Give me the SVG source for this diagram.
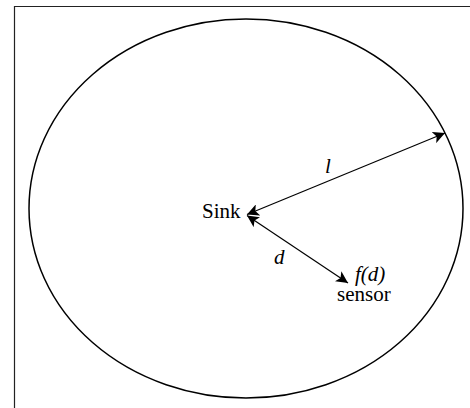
<svg xmlns="http://www.w3.org/2000/svg" width="470" height="408" viewBox="0 0 470 408">
<style>
.t{font-family:"Liberation Serif","Times New Roman",serif;font-size:21px;fill:#000}
.i{font-style:italic}
.ln{stroke:#000;stroke-width:1.2;fill:none}
</style>
<defs>
<marker id="ah" viewBox="0 0 10 10" refX="10" refY="5" markerWidth="12" markerHeight="12" markerUnits="userSpaceOnUse" orient="auto-start-reverse">
<path d="M0,0 L10,5 L0,10 L2.5,5 Z" fill="#000"/>
</marker>
</defs>
<rect x="0" y="0" width="470" height="408" fill="#fff"/>
<path d="M14.5,408 V6.5 H470" stroke="#222" stroke-width="1.2" fill="none"/>
<g id="region"><ellipse cx="246" cy="208.5" rx="217" ry="189.5" stroke="#000" stroke-width="1.5" fill="none"/></g>
<g id="connectors">
<line class="ln" x1="247" y1="214.5" x2="445" y2="133" marker-start="url(#ah)" marker-end="url(#ah)"/>
<line class="ln" x1="247" y1="215.5" x2="348" y2="283" marker-start="url(#ah)" marker-end="url(#ah)"/>
<text class="t i" x="325" y="173">l</text>
<text class="t i" x="274" y="264">d</text>
</g>
<g id="sink"><text class="t" x="202" y="218">Sink</text></g>
<g id="sensor"><text class="t i" x="355" y="281">f(d)</text><text class="t" x="337" y="301">sensor</text></g>
</svg>
